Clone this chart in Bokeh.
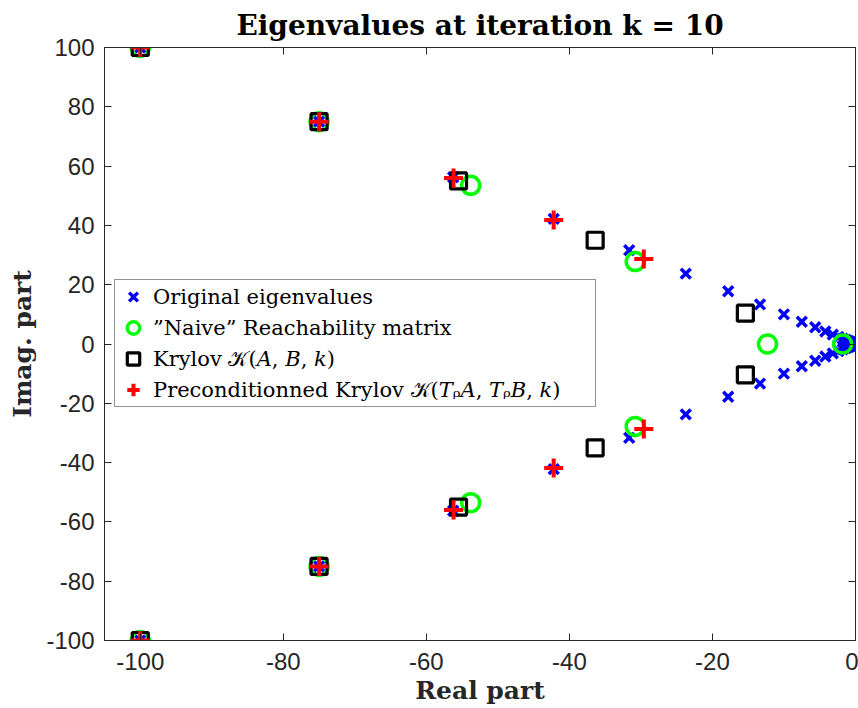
from bokeh.plotting import figure
from bokeh.models import FixedTicker, LinearAxis, Range1d, Legend, LegendItem
from bokeh.embed import file_html
from bokeh.resources import INLINE

# ---- data ----
orig_re = [-100, -75, -56.25, -42.19, -31.64, -23.73, -17.80, -13.35, -10.01, -7.51,
           -5.63, -4.22, -3.17, -2.38, -1.78, -1.34, -1.00, -0.75, -0.56, -0.42,
           -0.32, -0.24, -0.18, -0.13, -0.10,
           -100, -75, -56.25, -42.19, -31.64, -23.73, -17.80, -13.35, -10.01, -7.51,
           -5.63, -4.22, -3.17, -2.38, -1.78, -1.34, -1.00, -0.75, -0.56, -0.42,
           -0.32, -0.24, -0.18, -0.13, -0.10]
orig_im = [100, 75, 56.25, 42.19, 31.64, 23.73, 17.80, 13.35, 10.01, 7.51,
           5.63, 4.22, 3.17, 2.38, 1.78, 1.34, 1.00, 0.75, 0.56, 0.42,
           0.32, 0.24, 0.18, 0.13, 0.10,
           -100, -75, -56.25, -42.19, -31.64, -23.73, -17.80, -13.35, -10.01, -7.51,
           -5.63, -4.22, -3.17, -2.38, -1.78, -1.34, -1.00, -0.75, -0.56, -0.42,
           -0.32, -0.24, -0.18, -0.13, -0.10]

naive_re = [-100, -100, -75, -75, -53.8, -53.8, -30.8, -30.8, -12.3, -1.8]
naive_im = [100, -100, 75, -75, 53.5, -53.5, 27.8, -27.8, 0, 0]

krylov_re = [-100, -100, -75, -75, -55.5, -55.5, -36.4, -36.4, -15.4, -15.4]
krylov_im = [100, -100, 75, -75, 55, -55, 35, -35, 10.4, -10.4]

prec_re = [-100, -100, -75, -75, -56.2, -56.2, -42.2, -42.2, -29.6, -29.6]
prec_im = [100, -100, 75, -75, 56, -56, 41.8, -41.8, 28.7, -28.7]

x_ticks = [-100, -80, -60, -40, -20, 0]
y_ticks = [-100, -80, -60, -40, -20, 0, 20, 40, 60, 80, 100]

labels = ["Original eigenvalues",
          "\u201dNaive\u201d Reachability matrix",
          "Krylov \U0001D4A6(\U0001D434, \U0001D435, \U0001D458)",
          "Preconditionned Krylov \U0001D4A6(\U0001D447\u1D68\U0001D434, \U0001D447\u1D68\U0001D435, \U0001D458)"]

AX = "#262626"
SERIF = "DejaVu Serif"
SANS = "Liberation Sans"

p = figure(width=858, height=708, x_range=Range1d(-105, 0), y_range=Range1d(-100, 100),
           output_backend="svg", toolbar_location=None,
           min_border_left=104, min_border_right=3, min_border_top=47, min_border_bottom=68)

p.title.text = "Eigenvalues at iteration k = 10"
p.title.align = "center"
p.title.text_font = SERIF
p.title.text_font_style = "bold"
p.title.text_font_size = "28px"
p.title.text_color = "black"
p.title.standoff = 12

p.grid.visible = False
p.outline_line_color = AX
p.background_fill_color = "white"

for ax, tk in ((p.xaxis[0], x_ticks), (p.yaxis[0], y_ticks)):
    ax.ticker = FixedTicker(ticks=tk)
    ax.major_label_overrides = {t: str(t) for t in tk}
    ax.major_tick_in = 7
    ax.major_tick_out = 0
    ax.minor_tick_line_color = None
    ax.axis_line_color = AX
    ax.major_tick_line_color = AX
    ax.major_label_text_font = SANS
    ax.major_label_text_font_size = "24px"
    ax.major_label_text_color = AX
    ax.axis_label_text_font = SERIF
    ax.axis_label_text_font_style = "bold"
    ax.axis_label_text_font_size = "25px"
    ax.axis_label_text_color = AX

p.xaxis[0].axis_label = "Real part"
p.xaxis[0].major_label_standoff = 12
p.xaxis[0].axis_label_standoff = 3
p.yaxis[0].axis_label = "Imag. part"
p.yaxis[0].major_label_standoff = 10
p.yaxis[0].axis_label_standoff = 6

for side, tk in (("right", y_ticks), ("above", x_ticks)):
    ax = LinearAxis(ticker=FixedTicker(ticks=tk), major_label_text_font_size="0px",
                    major_tick_in=7, major_tick_out=0, major_label_standoff=0,
                    axis_line_color=AX, major_tick_line_color=AX,
                    minor_tick_line_color=None)
    p.add_layout(ax, side)

r1 = p.scatter(orig_re, orig_im, marker="x", size=14, line_color="#0000FF", line_width=3.5)
r2 = p.scatter(naive_re, naive_im, marker="circle", size=18, line_color="#00FF00",
               fill_color=None, line_width=3.5)
r3 = p.scatter(krylov_re, krylov_im, marker="square", size=16, line_color="black",
               fill_color=None, line_width=3.2)
r4 = p.scatter(prec_re, prec_im, marker="cross", size=19, line_color="#FF0000", line_width=4)

legend = Legend(items=[LegendItem(label=labels[i], renderers=[r]) for i, r in enumerate([r1, r2, r3, r4])],
                location=(10, 233), margin=0, padding=1, spacing=0,
                glyph_width=34, glyph_height=31, label_height=31, label_standoff=3,
                label_width=441,
                label_text_font=SERIF, label_text_font_size="21px", label_text_color="black",
                border_line_color=AX, border_line_width=1, background_fill_color="white",
                background_fill_alpha=1)
p.add_layout(legend, "center")

open("out.html", "w").write(file_html(p, INLINE))
